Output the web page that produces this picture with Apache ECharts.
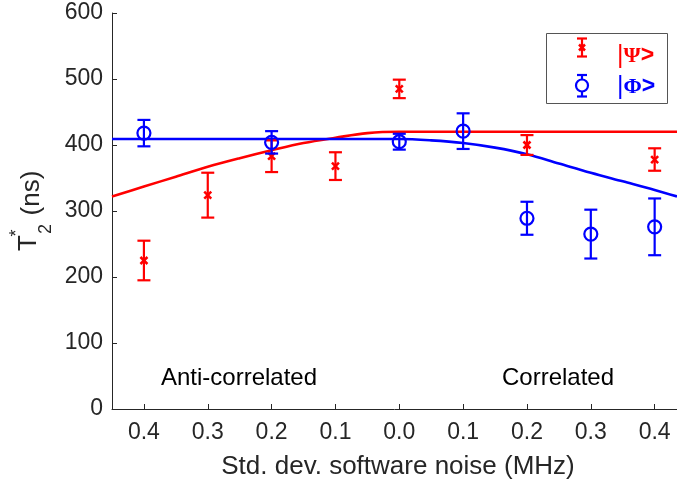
<!DOCTYPE html>
<html lang="en">
<head>
  <meta charset="UTF-8">
  <title>T2* vs software noise</title>
  <script src="https://cdn.jsdelivr.net/npm/echarts@6/dist/echarts.min.js"></script>
  <style>
    html, body { margin: 0; padding: 0; background: #fff; }
    #chart { width: 677px; height: 486px; }
  </style>
</head>
<body>
  <div id="chart"></div>
  <script>
    // signed noise: negative = anti-correlated, positive = correlated
    var tickValues = [-0.4, -0.3, -0.2, -0.1, 0.0, 0.1, 0.2, 0.3, 0.4];

    // |Psi> measurements
    var psiX = [-0.4, -0.3, -0.2, -0.1, 0.0, 0.2, 0.4];
    var psiT2 = [225, 324, 383, 368, 485, 400, 378];
    var psiErr = [30, 34, 24, 21, 14, 15, 17];

    // |Phi> measurements
    var phiX = [-0.4, -0.2, 0.0, 0.1, 0.2, 0.3, 0.4];
    var phiT2 = [418, 404, 405, 421, 289, 265, 276];
    var phiErr = [20, 17, 12, 27, 25, 37, 43];

    // fit curves
    var fitX = [-0.45, -0.4, -0.35, -0.3, -0.25, -0.2, -0.15, -0.1, -0.05, 0.0,
                0.05, 0.1, 0.15, 0.2, 0.25, 0.3, 0.35, 0.4, 0.435];
    var psiFit = [322, 337, 352, 367, 380, 392, 403, 411, 418, 420,
                  420, 420, 420, 420, 420, 420, 420, 420, 420];
    var phiFit = [409, 409, 409, 409, 409, 409, 409, 409, 409, 409,
                  407, 403, 396, 386, 372, 358, 345, 332, 322];

    var RED = '#ff0000';
    var BLUE = '#0000ff';
    var AX = '#262626';
    var FONT = '"Liberation Sans", Arial, Helvetica, sans-serif';

    function zip3(a, b, c) {
      var out = [];
      for (var i = 0; i < a.length; i++) out.push([a[i], b[i], c[i]]);
      return out;
    }
    function zip2(a, b) {
      var out = [];
      for (var i = 0; i < a.length; i++) out.push([a[i], b[i]]);
      return out;
    }

    function errRender(kind, color) {
      return function (params, api) {
        var x = api.value(0), y = api.value(1), e = api.value(2);
        var c = api.coord([x, y]);
        var t = api.coord([x, y + e]);
        var b = api.coord([x, y - e]);
        var cap = 6.5;
        var ls = { stroke: color, lineWidth: 2.2 };
        var kids = [
          { type: 'line', shape: { x1: c[0], y1: t[1], x2: c[0], y2: b[1] }, style: ls },
          { type: 'line', shape: { x1: c[0] - cap, y1: t[1], x2: c[0] + cap, y2: t[1] }, style: ls },
          { type: 'line', shape: { x1: c[0] - cap, y1: b[1], x2: c[0] + cap, y2: b[1] }, style: ls }
        ];
        if (kind === 'circle') {
          kids.push({ type: 'circle', shape: { cx: c[0], cy: c[1], r: 6.5 },
            style: { stroke: color, fill: 'none', lineWidth: 2.2 } });
        } else {
          var s = 3.5;
          var ms = { stroke: color, lineWidth: 2.5 };
          kids.push({ type: 'line', shape: { x1: c[0] - s, y1: c[1] - s, x2: c[0] + s, y2: c[1] + s }, style: ms });
          kids.push({ type: 'line', shape: { x1: c[0] - s, y1: c[1] + s, x2: c[0] + s, y2: c[1] - s }, style: ms });
        }
        return { type: 'group', children: kids };
      };
    }

    function legendText(sym, color) {
      return {
        text: '{p||}{g|' + sym + '}{a|>}',
        fill: color,
        align: 'left',
        verticalAlign: 'middle',
        rich: {
          p: { fontSize: 25, fontFamily: FONT, fill: color },
          g: { fontSize: 22, fontWeight: 'bold', fontFamily: '"Liberation Serif", serif', fill: color },
          a: { fontSize: 23, fontWeight: 'bold', fontFamily: FONT, fill: color }
        }
      };
    }

    var chart = echarts.init(document.getElementById('chart'));

    var option = {
      animation: false,
      backgroundColor: '#fff',
      grid: { left: 112, right: 0, top: 13, bottom: 77 },
      xAxis: {
        type: 'value',
        min: -0.45,
        max: 0.435,
        name: 'Std. dev. software noise (MHz)',
        nameLocation: 'middle',
        nameGap: 45,
        nameTextStyle: { color: AX, fontSize: 26, fontFamily: FONT, padding: [0, 0, 0, 7] },
        axisLine: { onZero: false, lineStyle: { color: AX, width: 1 } },
        axisTick: { inside: true, length: 5, customValues: tickValues, lineStyle: { color: AX } },
        axisLabel: {
          customValues: tickValues,
          color: AX, fontSize: 23, fontFamily: FONT, margin: 12,
          formatter: function (v) { return Math.abs(v).toFixed(1); }
        },
        splitLine: { show: false }
      },
      yAxis: {
        type: 'value',
        min: 0,
        max: 600,
        interval: 100,
        axisLine: { show: true, onZero: false, lineStyle: { color: AX, width: 1 } },
        axisTick: { show: true, inside: true, length: 5, lineStyle: { color: AX } },
        axisLabel: { color: AX, fontSize: 23, fontFamily: FONT, margin: 9 },
        splitLine: { show: false }
      },
      series: [
        {
          name: 'psiFit', type: 'line', data: zip2(fitX, psiFit), smooth: 0.35,
          showSymbol: false, lineStyle: { color: RED, width: 2.6 }, z: 3
        },
        {
          name: 'phiFit', type: 'line', data: zip2(fitX, phiFit), smooth: 0.35,
          showSymbol: false, lineStyle: { color: BLUE, width: 2.6 }, z: 4
        },
        {
          name: '|Ψ>', type: 'custom', renderItem: errRender('x', RED),
          data: zip3(psiX, psiT2, psiErr), encode: { x: 0, y: 1 }, z: 5
        },
        {
          name: '|Φ>', type: 'custom', renderItem: errRender('circle', BLUE),
          data: zip3(phiX, phiT2, phiErr), encode: { x: 0, y: 1 }, z: 6
        }
      ],
      graphic: [
        // y axis title T2* (ns), rotated
        { type: 'text', x: 32, y: 193, rotation: Math.PI / 2,
          style: { text: '(ns)', font: '26px ' + FONT, fill: AX, align: 'center', verticalAlign: 'middle' } },
        { type: 'text', x: 29, y: 243, rotation: Math.PI / 2,
          style: { text: 'T', font: '26px ' + FONT, fill: AX, align: 'center', verticalAlign: 'middle' } },
        { type: 'text', x: 46, y: 229, rotation: Math.PI / 2,
          style: { text: '2', font: '18px ' + FONT, fill: AX, align: 'center', verticalAlign: 'middle' } },
        { type: 'text', x: 17, y: 233, rotation: Math.PI / 2,
          style: { text: '*', font: '18px ' + FONT, fill: AX, align: 'center', verticalAlign: 'middle' } },

        // region labels
        { type: 'text', x: 239, y: 378,
          style: { text: 'Anti-correlated', font: '24px ' + FONT, fill: '#000', align: 'center', verticalAlign: 'middle' } },
        { type: 'text', x: 558, y: 378,
          style: { text: 'Correlated', font: '24px ' + FONT, fill: '#000', align: 'center', verticalAlign: 'middle' } },

        // legend box
        { type: 'rect', shape: { x: 546.5, y: 33.5, width: 121, height: 70 },
          style: { fill: '#fff', stroke: '#555', lineWidth: 1 }, z: 20 },
        // red legend icon
        { type: 'line', z: 21, shape: { x1: 582, y1: 38.5, x2: 582, y2: 56.5 }, style: { stroke: RED, lineWidth: 2.2 } },
        { type: 'line', z: 21, shape: { x1: 577, y1: 38.5, x2: 587, y2: 38.5 }, style: { stroke: RED, lineWidth: 2.2 } },
        { type: 'line', z: 21, shape: { x1: 577, y1: 56.5, x2: 587, y2: 56.5 }, style: { stroke: RED, lineWidth: 2.2 } },
        { type: 'line', z: 21, shape: { x1: 579, y1: 44.5, x2: 585, y2: 50.5 }, style: { stroke: RED, lineWidth: 2.5 } },
        { type: 'line', z: 21, shape: { x1: 579, y1: 50.5, x2: 585, y2: 44.5 }, style: { stroke: RED, lineWidth: 2.5 } },
        // blue legend icon
        { type: 'line', z: 21, shape: { x1: 582, y1: 75, x2: 582, y2: 96.5 }, style: { stroke: BLUE, lineWidth: 2.2 } },
        { type: 'line', z: 21, shape: { x1: 577, y1: 75, x2: 587, y2: 75 }, style: { stroke: BLUE, lineWidth: 2.2 } },
        { type: 'line', z: 21, shape: { x1: 577, y1: 96.5, x2: 587, y2: 96.5 }, style: { stroke: BLUE, lineWidth: 2.2 } },
        { type: 'circle', z: 21, shape: { cx: 582, cy: 85.5, r: 6 }, style: { stroke: BLUE, fill: '#fff', lineWidth: 2.2 } },
        // legend labels
        { type: 'text', x: 617, y: 56, z: 21, style: legendText('Ψ', RED) },
        { type: 'text', x: 617, y: 87, z: 21, style: legendText('Φ', BLUE) }
      ]
    };

    chart.setOption(option);
  </script>
</body>
</html>
